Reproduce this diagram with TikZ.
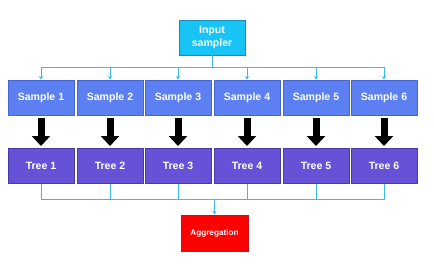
\documentclass[tikz,border=0pt]{standalone}
\usepackage{fontspec}
\setsansfont{Liberation Sans}
\definecolor{InCyan}{RGB}{24,196,245}
\definecolor{InCyanDk}{RGB}{22,140,186}
\definecolor{SampBlue}{RGB}{92,128,242}
\definecolor{SampBlueDk}{RGB}{70,100,210}
\definecolor{TreeViolet}{RGB}{102,82,214}
\definecolor{TreeVioletDk}{RGB}{72,58,170}
\definecolor{AggRed}{RGB}{255,0,0}
\definecolor{AggRedDk}{RGB}{190,20,30}
\definecolor{LinkCyan}{RGB}{60,185,234}
\usetikzlibrary{arrows.meta, positioning}

\begin{document}
\begin{tikzpicture}[
		box/.style={draw, line width=0.8pt, minimum width=1.98cm, minimum height=1.05cm, inner sep=1pt, text=white, align=center, font=\sffamily\bfseries\fontsize{9}{11}\selectfont},
		link/.style={draw=LinkCyan, line width=0.6pt},
		tip/.style={link, -{Stealth[length=3pt, width=3.5pt]}},
		blk/.style={line width=0.21cm, -{Triangle[width=0.54cm, length=0.3cm]}, shorten <=0.09cm, shorten >=0.06cm}]
	\useasboundingbox (0,0) rectangle (13.02,-8.25);
	\node[box, draw=InCyanDk, fill=InCyan] (inp) at (6.36,-1.125) {Input\\sampler};
	\coordinate (busT) at (6.36,-2.01);
	\coordinate (busB) at (6.435,-5.97);
	\node[box, draw=AggRedDk, fill=AggRed, minimum width=2.01cm, minimum height=1.08cm, font=\sffamily\bfseries\fontsize{7}{8}\selectfont] (agg) at (6.435,-6.99) {Aggregation};
	\draw[link] (inp) -- (busT);
	\foreach \i/\x in {1/1.23, 2/3.30, 3/5.34, 4/7.41, 5/9.48, 6/11.52}{
		\node[box, draw=SampBlueDk, fill=SampBlue] (s\i) at (\x,-2.925) {Sample \i};
		\node[box, draw=TreeVioletDk, fill=TreeViolet] (t\i) at (\x,-4.98) {Tree \i};
		\draw[tip] (busT) -| (s\i);
		\draw[blk] (s\i) -- (t\i);
		\draw[link] (t\i) |- (busB);
	}
	\draw[tip] (busB) -- (agg);
\end{tikzpicture}
\end{document}
